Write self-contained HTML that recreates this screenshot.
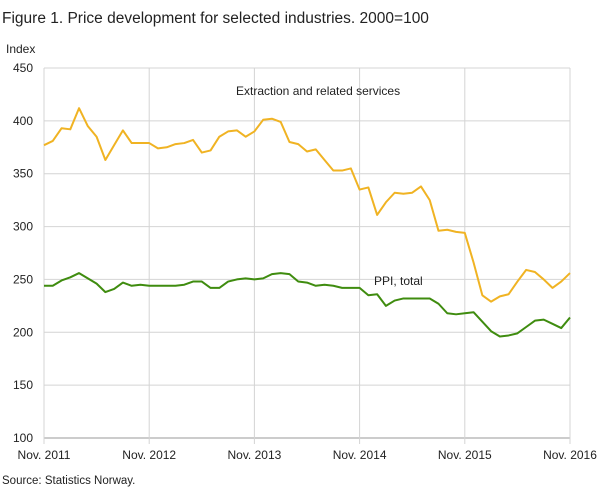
<!DOCTYPE html>
<html><head><meta charset="utf-8"><style>
body{margin:0;background:#fff;font-family:"Liberation Sans",sans-serif;}
svg text{font-family:"Liberation Sans",sans-serif;fill:#222;}
</style></head><body>
<svg id="chart" width="609" height="489">
<text x="2" y="23" font-size="15.5">Figure 1. Price development for selected industries. 2000=100</text>
<text x="6" y="53" font-size="12">Index</text>
<g id="grid"></g><g id="series"></g>
<text x="236" y="95" font-size="12">Extraction and related  services</text>
<text x="374" y="285" font-size="12">PPI, total</text>
<text x="2" y="484" font-size="11.5">Source: Statistics Norway.</text>
</svg>
<script>
const yTicks=[100,150,200,250,300,350,400,450];
const xTickLabels=["Nov. 2011","Nov. 2012","Nov. 2013","Nov. 2014","Nov. 2015","Nov. 2016"];
const extraction=[377,381,393,392,412,395,385,363,377,391,379,379,379,374,375,378,379,382,370,372,385,390,391,385,390,401,402,399,380,378,371,373,363,353,353,355,335,337,311,323,332,331,332,338,325,296,297,295,294,266,235,229,234,236,248,259,257,250,242,248,256];
const ppi=[244,244,249,252,256,251,246,238,241,247,244,245,244,244,244,244,245,248,248,242,242,248,250,251,250,251,255,256,255,248,247,244,245,244,242,242,242,235,236,225,230,232,232,232,232,227,218,217,218,219,210,201,196,197,199,205,211,212,208,204,214];
const X0=44,X1=570,Y0=438,Y1=68;
const ns="http://www.w3.org/2000/svg";
const xs=i=>X0+(X1-X0)*i/60;
const ys=v=>Y0-(v-100)/350*(Y0-Y1);
const grid=document.getElementById('grid'),ser=document.getElementById('series');
function mk(t,a,p){const e=document.createElementNS(ns,t);for(const k in a)e.setAttribute(k,a[k]);p.appendChild(e);return e;}
yTicks.forEach(v=>{
 const l=mk('line',{x1:X0,x2:X1,y1:ys(v),y2:ys(v),stroke:v===100?'#999':'#d4d4d4','stroke-width':1},grid);
 
 
 const t=mk('text',{x:33,y:ys(v)+4,'font-size':12,'text-anchor':'end'},grid);t.textContent=v;
 
 
});
xTickLabels.forEach((s,i)=>{
 const x=xs(i*12);
 const l=mk('line',{x1:x,x2:x,y1:Y1,y2:Y0+6,stroke:'#d4d4d4','stroke-width':1},grid);
 
 
 const t=mk('text',{x:x,y:459,'font-size':12,'text-anchor':'middle'},grid);t.textContent=s;
 
 
});
function line(d,c,name){
 const p=mk('polyline',{points:d.map((v,i)=>xs(i)+','+ys(v)).join(' '),fill:'none',stroke:c,'stroke-width':2,'stroke-linejoin':'round'},ser);
 
 
}
line(extraction,'#f0b323','extraction-line');
line(ppi,'#3f8c0f','ppi-line');
</script>
</body></html>
